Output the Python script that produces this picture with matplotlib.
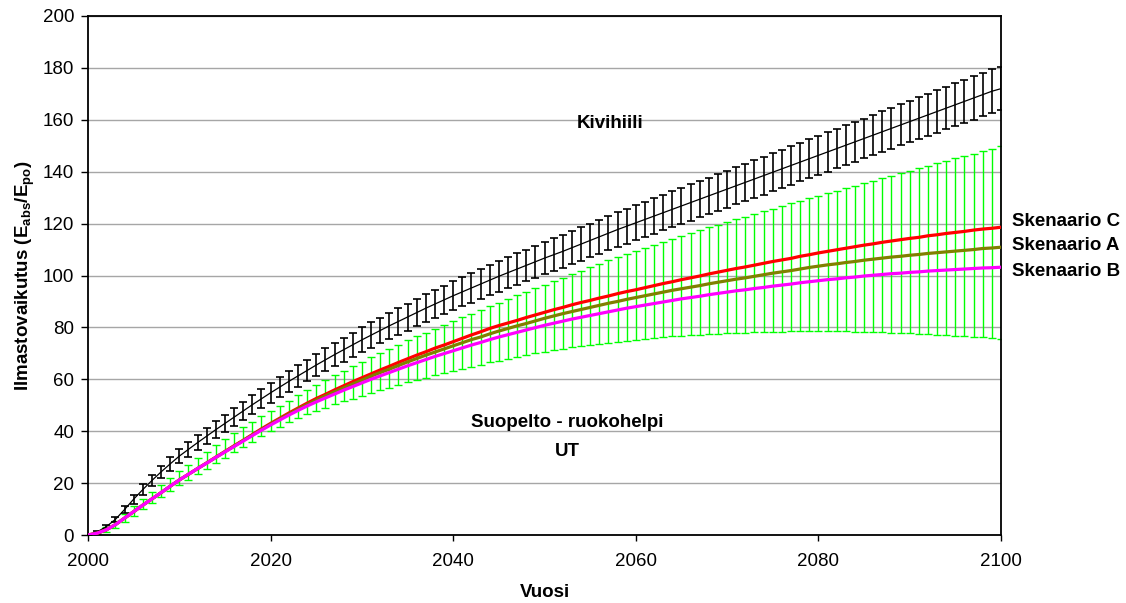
import numpy as np
import matplotlib
matplotlib.use("Agg")
import matplotlib.pyplot as plt

plt.rcParams['font.family'] = ['Liberation Sans', 'DejaVu Sans']
plt.rcParams['mathtext.fontset'] = 'custom'
plt.rcParams['mathtext.rm'] = 'Liberation Sans'
plt.rcParams['mathtext.bf'] = 'Liberation Sans:bold'
plt.rcParams['mathtext.default'] = 'bf'

years = list(range(2000, 2101))

kivihiili = [
    0.0, 1.2, 3.2, 6.0, 9.8, 13.8, 17.5, 21.0, 24.3, 27.4,
    30.4, 33.0, 35.6, 38.1, 40.6, 43.0, 45.4, 47.8, 50.2, 52.5,
    54.8, 57.0, 59.2, 61.3, 63.4, 65.5, 67.5, 69.5, 71.4, 73.3,
    75.2, 77.0, 78.8, 80.6, 82.3, 84.0, 85.7, 87.4, 89.0, 90.6,
    92.2, 93.7, 95.2, 96.7, 98.2, 99.7, 101.1, 102.5, 103.9, 105.3,
    106.7, 108.0, 109.3, 110.7, 112.1, 113.5, 114.9, 116.3, 117.7, 119.0,
    120.3, 121.6, 122.9, 124.2, 125.5, 126.8, 128.1, 129.4, 130.7, 132.0,
    133.3, 134.6, 135.9, 137.2, 138.5, 139.8, 141.1, 142.4, 143.7, 145.0,
    146.3, 147.6, 148.9, 150.2, 151.5, 152.8, 154.1, 155.4, 156.7, 158.0,
    159.3, 160.6, 161.9, 163.2, 164.5, 165.8, 167.1, 168.4, 169.7, 171.0,
    172.0]

kivihiili_err = [
    0.0, 0.4, 0.7, 1.0, 1.4, 1.8, 2.0, 2.2, 2.4, 2.6,
    2.8, 2.9, 3.0, 3.1, 3.2, 3.3, 3.4, 3.5, 3.6, 3.7,
    3.8, 3.9, 4.0, 4.1, 4.2, 4.3, 4.4, 4.5, 4.6, 4.7,
    4.8, 4.9, 5.0, 5.0, 5.1, 5.2, 5.3, 5.3, 5.4, 5.5,
    5.6, 5.6, 5.7, 5.8, 5.8, 5.9, 6.0, 6.0, 6.1, 6.1,
    6.2, 6.3, 6.3, 6.4, 6.4, 6.5, 6.5, 6.6, 6.6, 6.7,
    6.7, 6.8, 6.8, 6.8, 6.9, 6.9, 7.0, 7.0, 7.0, 7.1,
    7.1, 7.2, 7.2, 7.2, 7.3, 7.3, 7.4, 7.4, 7.4, 7.5,
    7.5, 7.6, 7.6, 7.7, 7.7, 7.7, 7.8, 7.8, 7.9, 7.9,
    8.0, 8.0, 8.0, 8.1, 8.1, 8.2, 8.2, 8.3, 8.3, 8.4,
    8.4]

suopelto_upper = [
    0.0, 1.2, 3.0, 5.5, 8.2, 11.0, 13.8, 16.6, 19.3, 21.9,
    24.5, 27.0, 29.6, 32.1, 34.6, 37.0, 39.3, 41.5, 43.6, 45.7,
    47.8, 49.8, 51.8, 53.9, 55.9, 57.8, 59.7, 61.5, 63.3, 65.1,
    66.8, 68.5, 70.2, 71.8, 73.4, 75.0, 76.5, 78.0, 79.5, 81.0,
    82.5, 83.9, 85.3, 86.7, 88.1, 89.5, 90.9, 92.3, 93.7, 95.1,
    96.5, 97.9, 99.2, 100.5, 101.9, 103.2, 104.5, 105.8, 107.0, 108.3,
    109.5, 110.7, 111.8, 113.0, 114.1, 115.2, 116.3, 117.4, 118.5, 119.5,
    120.6, 121.6, 122.7, 123.7, 124.8, 125.8, 126.8, 127.8, 128.8, 129.8,
    130.8, 131.8, 132.7, 133.7, 134.6, 135.6, 136.6, 137.5, 138.5, 139.4,
    140.4, 141.3, 142.3, 143.2, 144.2, 145.1, 146.0, 147.0, 147.9, 148.9,
    149.8]

suopelto_lower = [
    0.0, 0.3, 1.2, 2.7, 5.0, 7.5, 9.9, 12.3, 14.6, 16.9,
    19.1, 21.3, 23.5, 25.6, 27.7, 29.8, 31.9, 34.0, 36.0, 38.0,
    40.0, 41.8, 43.5, 45.0, 46.5, 47.8, 49.1, 50.3, 51.5, 52.6,
    53.7, 54.8, 55.8, 56.8, 57.8, 58.8, 59.7, 60.6, 61.5, 62.4,
    63.3, 64.1, 64.9, 65.7, 66.5, 67.2, 67.9, 68.6, 69.3, 70.0,
    70.6, 71.2, 71.8, 72.3, 72.8, 73.3, 73.7, 74.1, 74.5, 74.9,
    75.3, 75.6, 75.9, 76.2, 76.5, 76.8, 77.0, 77.2, 77.4, 77.6,
    77.8, 77.9, 78.0, 78.1, 78.2, 78.3, 78.4, 78.5, 78.5, 78.6,
    78.6, 78.6, 78.5, 78.5, 78.4, 78.3, 78.2, 78.1, 78.0, 77.9,
    77.7, 77.5, 77.4, 77.2, 77.0, 76.8, 76.6, 76.4, 76.2, 75.9,
    75.7]

skenaario_c = [
    0.0, 0.7, 2.0, 4.0, 6.5, 9.0, 11.5, 13.9, 16.3, 18.8,
    21.2, 23.4, 25.6, 27.8, 30.0, 32.2, 34.4, 36.5, 38.7, 40.9,
    43.0, 45.0, 47.0, 48.9, 50.8, 52.6, 54.2, 55.9, 57.5, 59.1,
    60.6, 62.1, 63.6, 65.0, 66.5, 67.9, 69.3, 70.6, 72.0, 73.2,
    74.5, 75.8, 77.1, 78.3, 79.6, 80.7, 81.7, 82.7, 83.8, 84.8,
    85.8, 86.8, 87.7, 88.7, 89.6, 90.4, 91.3, 92.1, 93.0, 93.8,
    94.5, 95.3, 96.1, 96.9, 97.6, 98.4, 99.1, 99.8, 100.6, 101.3,
    102.0, 102.7, 103.3, 104.0, 104.7, 105.4, 106.0, 106.6, 107.4, 108.0,
    108.7, 109.3, 109.9, 110.5, 111.1, 111.7, 112.2, 112.8, 113.3, 113.8,
    114.3, 114.7, 115.3, 115.7, 116.2, 116.6, 117.0, 117.5, 117.9, 118.2,
    118.6]

skenaario_a = [
    0.0, 0.7, 2.0, 4.0, 6.5, 9.0, 11.5, 13.9, 16.3, 18.8,
    21.2, 23.4, 25.6, 27.7, 29.9, 32.1, 34.2, 36.4, 38.5, 40.6,
    42.7, 44.7, 46.6, 48.5, 50.3, 52.0, 53.6, 55.2, 56.7, 58.2,
    59.7, 61.2, 62.6, 63.9, 65.3, 66.7, 68.0, 69.3, 70.5, 71.7,
    72.9, 74.1, 75.3, 76.3, 77.5, 78.6, 79.6, 80.6, 81.5, 82.5,
    83.5, 84.4, 85.3, 86.1, 86.9, 87.7, 88.5, 89.3, 90.0, 90.8,
    91.5, 92.2, 92.9, 93.6, 94.3, 94.9, 95.5, 96.1, 96.8, 97.4,
    98.0, 98.6, 99.1, 99.7, 100.3, 100.9, 101.4, 101.9, 102.5, 103.1,
    103.6, 104.1, 104.5, 105.0, 105.4, 105.9, 106.3, 106.7, 107.1, 107.4,
    107.8, 108.1, 108.5, 108.8, 109.1, 109.4, 109.7, 110.0, 110.4, 110.6,
    110.9]

skenaario_b = [
    0.0, 0.7, 2.0, 4.0, 6.5, 9.0, 11.5, 13.9, 16.3, 18.8,
    21.2, 23.4, 25.6, 27.7, 29.9, 32.0, 34.1, 36.2, 38.3, 40.4,
    42.4, 44.3, 46.2, 48.0, 49.7, 51.3, 52.8, 54.3, 55.8, 57.2,
    58.6, 60.0, 61.3, 62.6, 63.9, 65.2, 66.4, 67.6, 68.8, 69.9,
    71.0, 72.1, 73.2, 74.2, 75.3, 76.3, 77.2, 78.1, 79.0, 79.9,
    80.8, 81.6, 82.4, 83.2, 83.9, 84.6, 85.3, 86.0, 86.7, 87.4,
    88.0, 88.6, 89.2, 89.8, 90.4, 91.0, 91.5, 92.0, 92.6, 93.1,
    93.6, 94.1, 94.5, 95.0, 95.4, 95.9, 96.3, 96.7, 97.2, 97.6,
    98.0, 98.4, 98.7, 99.1, 99.4, 99.8, 100.1, 100.4, 100.7, 100.9,
    101.2, 101.4, 101.7, 101.9, 102.1, 102.3, 102.5, 102.7, 102.9, 103.0,
    103.2]

x_ticks = [2000, 2020, 2040, 2060, 2080, 2100]
y_ticks = [0, 20, 40, 60, 80, 100, 120, 140, 160, 180, 200]

FS = 13.5

fig = plt.figure(figsize=(11.26, 6.03), dpi=100)
ax = fig.add_axes([88 / 1126, 1 - 535 / 603, (1001 - 88) / 1126, (535 - 16) / 603])

yr = np.array(years)
k = np.array(kivihiili)
ke = np.array(kivihiili_err)
su = np.array(suopelto_upper)
sl = np.array(suopelto_lower)
smid = (su + sl) / 2

# Kivihiili with error bars
ax.errorbar(yr, k, yerr=ke, fmt='none', ecolor='black', elinewidth=1.2,
            capsize=2.6, capthick=1.2, zorder=3)
ax.plot(yr, k, color='black', lw=0.9, zorder=4)

# Suopelto - ruokohelpi UT range
ax.errorbar(yr, smid, yerr=[smid - sl, su - smid], fmt='none', ecolor='#00ff00',
            elinewidth=1.0, capsize=3.0, capthick=1.0, zorder=2)

# Scenario lines
ax.plot(yr, skenaario_c, color='#ff0000', lw=2.3, zorder=5)
ax.plot(yr, skenaario_a, color='#808000', lw=2.3, zorder=6)
ax.plot(yr, skenaario_b, color='#ff00ff', lw=2.3, zorder=7)

ax.set_xlim(2000, 2100)
ax.set_ylim(0, 200)
ax.set_xticks(x_ticks)
ax.set_yticks(y_ticks)
ax.tick_params(axis='both', direction='out', width=1, labelsize=FS)
ax.tick_params(axis='y', length=5, pad=5)
ax.tick_params(axis='x', length=4, pad=9)
ax.grid(axis='y', color='#a6a6a6', lw=1.0)
ax.set_axisbelow(True)
for s in ax.spines.values():
    s.set_linewidth(1.3)
    s.set_color('black')

ax.set_xlabel('Vuosi', fontsize=FS, fontweight='bold', labelpad=10)
ax.set_ylabel(r'Ilmastovaikutus (E$_{abs}$/E$_{po}$)', fontsize=FS, fontweight='bold', labelpad=4)

ax.text(2057.2, 158.6, 'Kivihiili', fontsize=FS, fontweight='bold', ha='center', va='center')
ax.text(2052.5, 43.2, 'Suopelto - ruokohelpi', fontsize=FS, fontweight='bold', ha='center', va='center')
ax.text(2052.5, 32.3, 'UT', fontsize=FS, fontweight='bold', ha='center', va='center')

fig.text(1012 / 1126, 1 - 221 / 603, 'Skenaario C', fontsize=FS, fontweight='bold', ha='left', va='center')
fig.text(1012 / 1126, 1 - 246 / 603, 'Skenaario A', fontsize=FS, fontweight='bold', ha='left', va='center')
fig.text(1012 / 1126, 1 - 271 / 603, 'Skenaario B', fontsize=FS, fontweight='bold', ha='left', va='center')

fig.savefig('out.png', dpi=100)
